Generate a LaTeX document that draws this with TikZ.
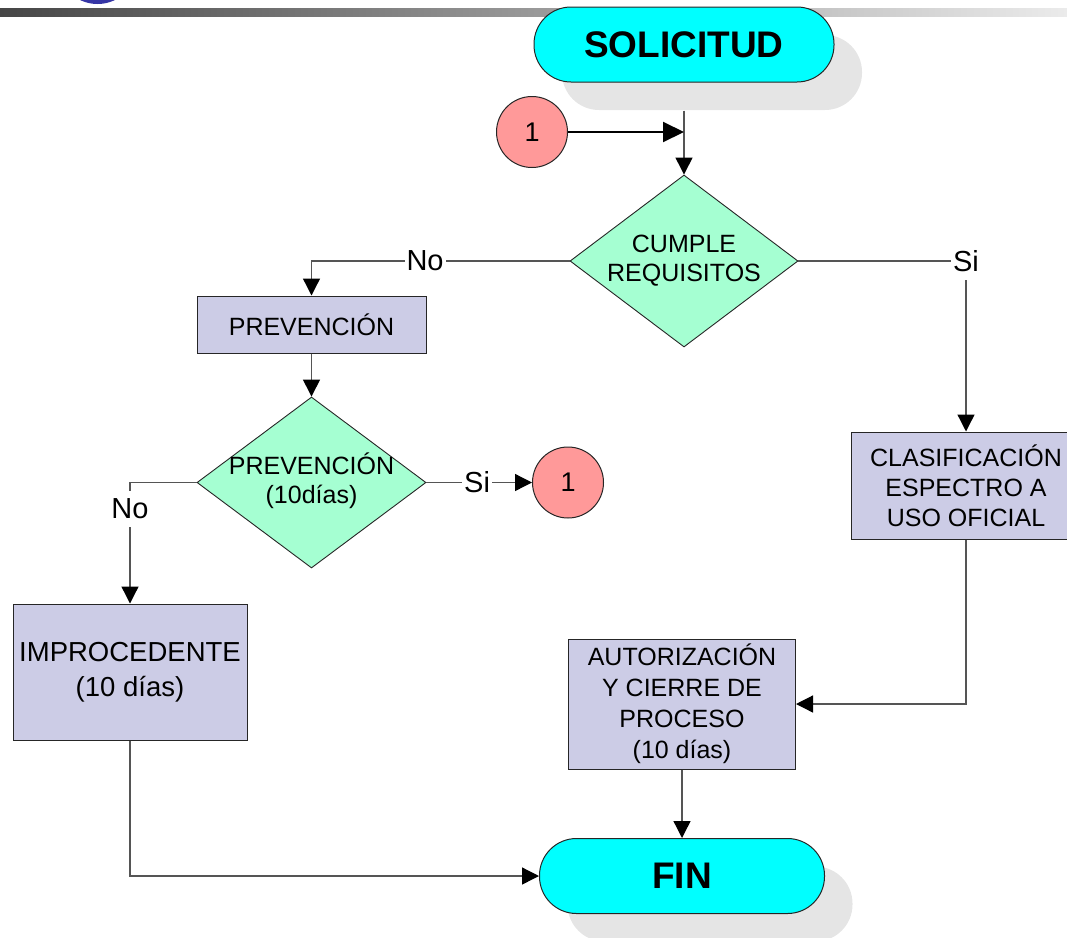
\documentclass[tikz,border=0pt]{standalone}
\usepackage{fontspec}
\setmainfont{Liberation Sans}
\usetikzlibrary{shapes.geometric,arrows.meta,shadows,calc}
\definecolor{cyanT}{HTML}{00FFFF}
\definecolor{decG}{HTML}{A5FFD2}
\definecolor{boxL}{HTML}{CCCCE6}
\definecolor{conR}{HTML}{FF9999}
\definecolor{lineG}{HTML}{555555}
\definecolor{shadowG}{HTML}{E5E5E5}
\definecolor{logoB}{HTML}{3535A5}
\definecolor{barA}{HTML}{464646}
\definecolor{barB}{HTML}{A0A0A0}
\definecolor{barC}{HTML}{EBEBEB}
\newcommand{\zbox}[1]{\makebox[0pt]{\begin{tabular}{@{}c@{}}#1\end{tabular}}}
\begin{document}
\begin{tikzpicture}[x=1pt,y=-1pt,
  term/.style={draw=black!85, line width=1pt, fill=cyanT, rounded corners=37pt,
    minimum height=75pt, inner sep=0pt, font=\fontsize{37}{44}\selectfont\bfseries,
    drop shadow={shadow xshift=28pt, shadow yshift=-28pt, fill=shadowG, opacity=1}},
  dec/.style={shape=diamond, draw=black!85, line width=0.9pt, fill=decG, inner sep=0pt,
    font=\fontsize{25}{29}\selectfont},
  proc/.style={draw=black!85, line width=1pt, fill=boxL, inner sep=0pt,
    font=\fontsize{25}{30}\selectfont, align=center},
  conn/.style={circle, draw=black!85, line width=1pt, fill=conR, minimum size=71pt,
    inner sep=0pt, font=\fontsize{27}{32}\selectfont},
  flow/.style={draw=lineG, line width=1.3pt, -{Triangle[length=17pt,width=17pt,color=black]}},
  lbl/.style={fill=white, inner xsep=2pt, inner ysep=8pt, font=\fontsize{29}{34}\selectfont}]
\useasboundingbox (0,0) rectangle (1067,937);
% header decoration
\shade[left color=barA, middle color=barB, right color=barC] (0,8) rectangle (1067,16);
\fill[logoB] (97.5,-36) circle (40pt);
% nodes
\node[term, minimum width=300pt] (sol) at (684,44.5) {SOLICITUD};
\node[term, minimum width=285pt] (fin) at (682,876) {FIN};
\node[conn] (c1) at (532,132) {1};
\node[dec, minimum width=228pt, minimum height=172pt] (d1) at (684,261) {\zbox{CUMPLE\\REQUISITOS}};
\node[proc, minimum width=229pt, minimum height=57pt] (prev) at (311.5,324.5) {PREVENCIÓN};
\node[dec, minimum width=229pt, minimum height=171pt] (d2) at (311.5,482.5) {\zbox{PREVENCIÓN\\(10días)}};
\node[conn] (c2) at (568,482.5) {1};
\node[proc, minimum width=230pt, minimum height=107pt] (clas) at (966,485.5) {CLASIFICACIÓN\\ESPECTRO A\\USO OFICIAL};
\node[proc, minimum width=234pt, minimum height=136pt, font=\fontsize{27.5}{35}\selectfont] (impr) at (130,672) {IMPROCEDENTE\\(10 días)};
\node[proc, minimum width=227pt, minimum height=130pt, font=\fontsize{25}{31}\selectfont] (aut) at (682,704) {AUTORIZACIÓN\\Y CIERRE DE\\PROCESO\\(10 días)};
% connectors
\coordinate (solsh) at ($(sol.south)+(0,28)$);
\coordinate (c1tip) at (c1.east -| d1.north);
\draw[flow] (solsh) -- (d1.north);
\draw[draw=black, line width=2pt, -{Triangle[length=21pt,width=20pt]}] (c1) -- (c1tip);
\draw[flow] (d1.west) -| node[lbl, pos=0.28] {No} (prev.north);
\draw[flow] (d1.east) -| node[lbl, pos=0.5] {Si} (clas.north);
\draw[flow] (prev.south) -- (d2.north);
\draw[flow] (d2.east) -- node[lbl, pos=0.48] {Si} (c2.west);
\draw[flow] (d2.west) -| node[lbl, pos=0.61] {No} (impr.north);
\draw[flow] (clas.south) |- (aut.east);
\draw[flow] (aut.south) -- (fin.north);
\draw[flow] (impr.south) |- (fin.west);
\end{tikzpicture}
\end{document}
